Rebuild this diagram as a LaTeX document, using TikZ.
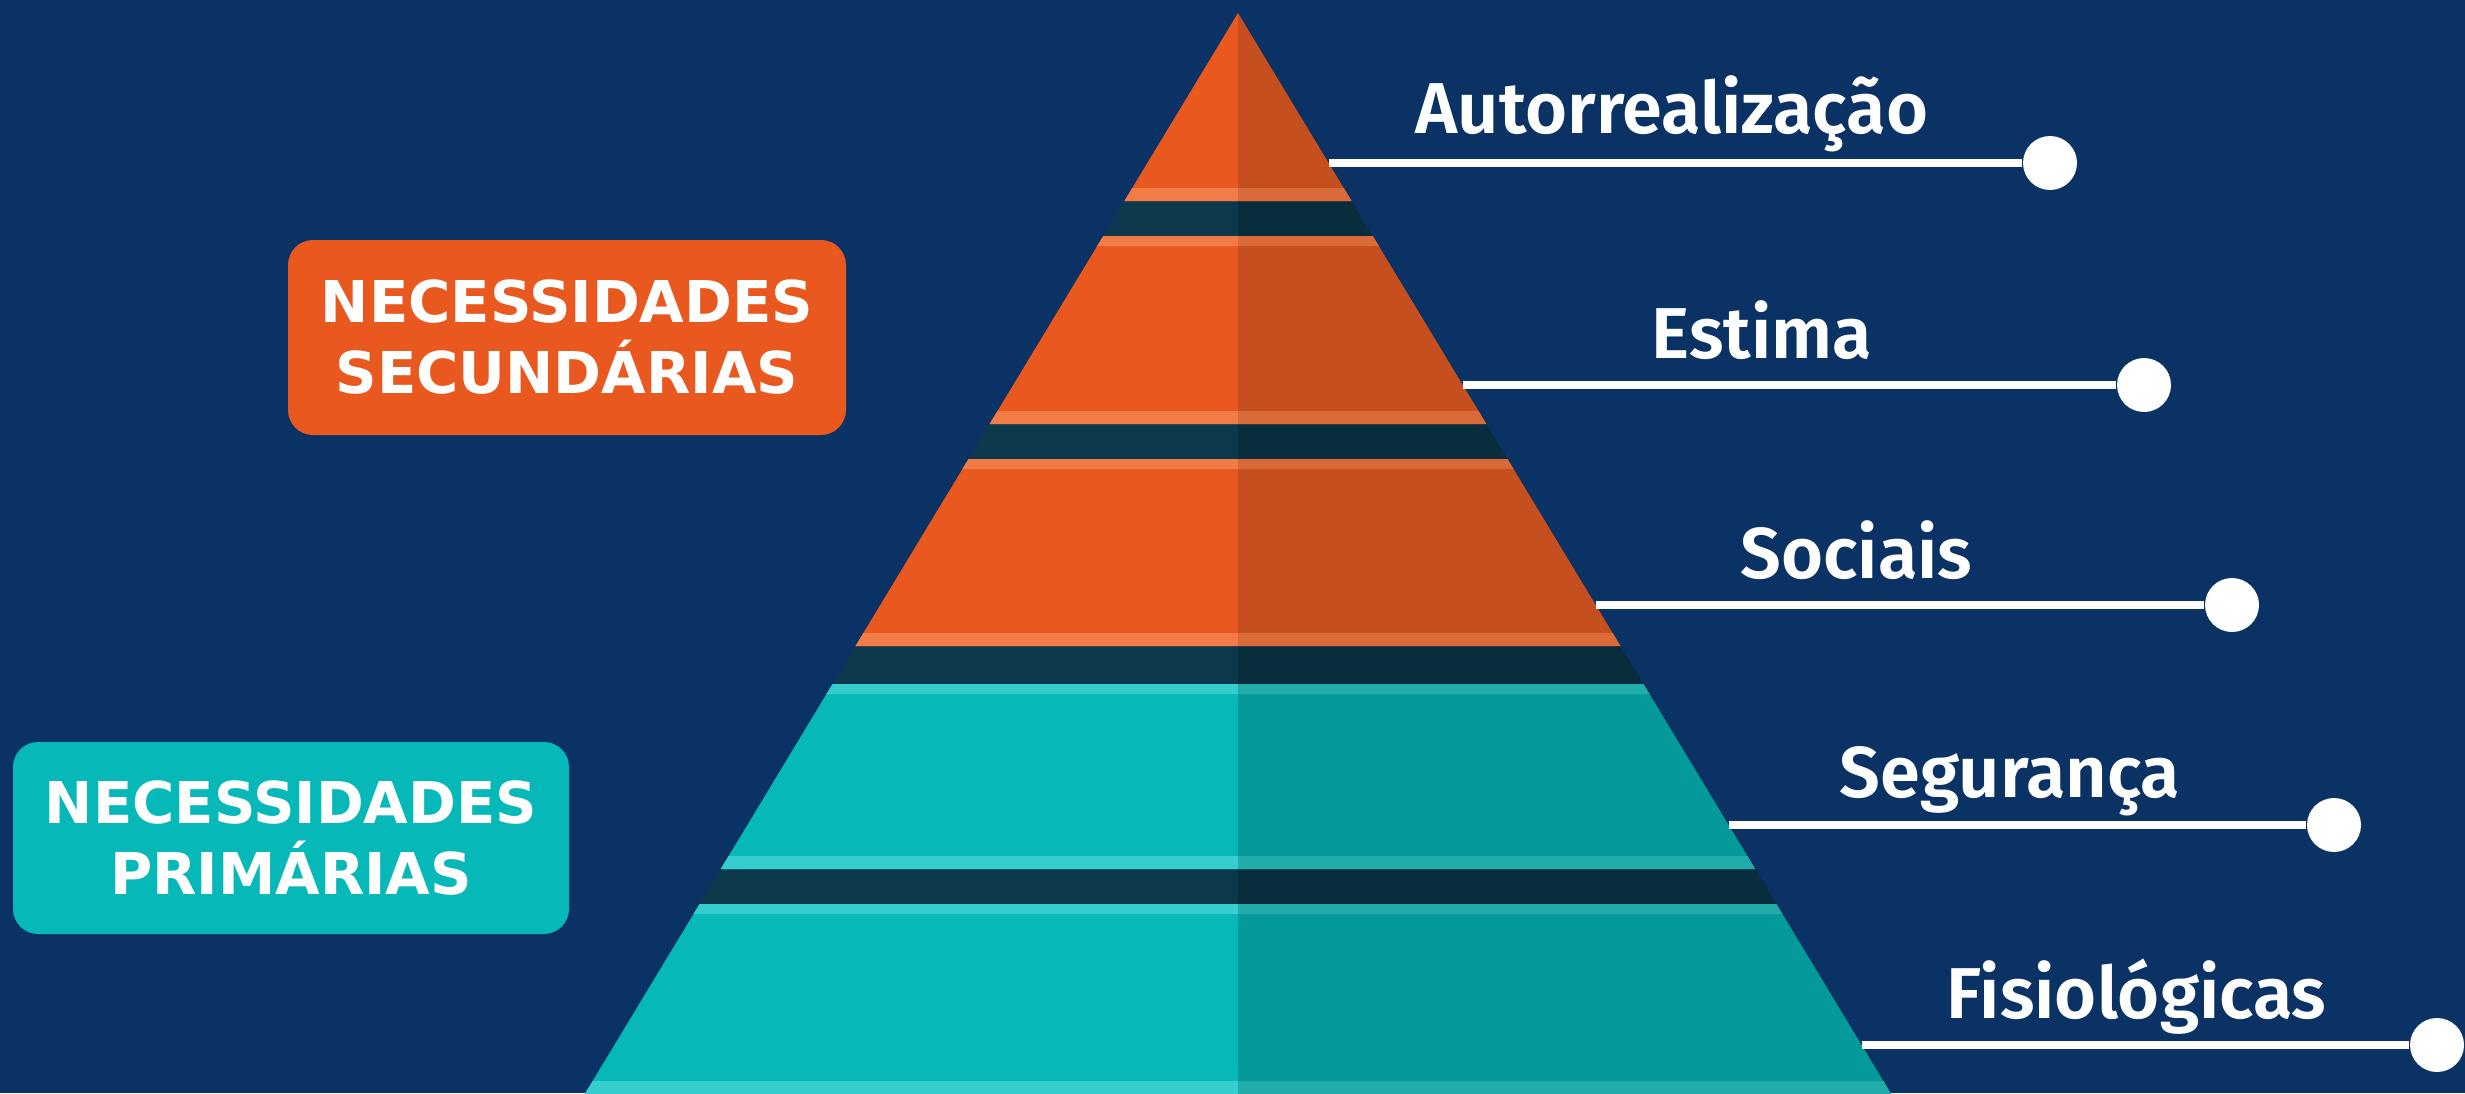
\documentclass[tikz,border=0pt]{standalone}
\usepackage{fontspec}
\setmainfont{Fira Sans}
\newfontfamily\labelfont{Fira Sans SemiBold}
\newfontfamily\boxfont{DejaVu Sans}
\usepackage{xcolor}
\usepackage{tikz}

\definecolor{navy}{HTML}{0A3264}
\definecolor{orangeL}{HTML}{E9591F}
\definecolor{orangeR}{HTML}{C64F20}
\definecolor{orangeHiL}{HTML}{F27C47}
\definecolor{orangeHiR}{HTML}{D96A3A}
\definecolor{tealL}{HTML}{07B8B8}
\definecolor{tealR}{HTML}{059A9A}
\definecolor{tealHiL}{HTML}{35CDCD}
\definecolor{tealHiR}{HTML}{22ABAB}
\definecolor{gapL}{HTML}{0C3A4C}
\definecolor{gapR}{HTML}{082D3D}

\tikzstyle{groupbox} = [rectangle, rounded corners=0.25cm, minimum width=5.58cm, minimum height=1.95cm, align=center, text=white, font=\boxfont\bfseries\fontsize{16.4}{20.2}\selectfont]
\tikzstyle{levellabel} = [anchor=base west, inner sep=0pt, text=white, font=\labelfont\fontsize{20.5}{25}\selectfont]
\tikzstyle{enddot} = [circle, fill=white, minimum size=0.54cm, inner sep=0pt]
\tikzstyle{connector} = [draw=white, line width=2pt]

% slice of the pyramid between two heights (in px from the top), left and right half
\newcommand{\band}[4]{%
  \fill[#3] ({12.38-hw(#1)},{(1093-(#1))/100}) -- (12.38,{(1093-(#1))/100}) -- (12.38,{(1093-(#2))/100}) -- ({12.38-hw(#2)},{(1093-(#2))/100}) -- cycle;
  \fill[#4] ({12.38+hw(#1)},{(1093-(#1))/100}) -- (12.38,{(1093-(#1))/100}) -- (12.38,{(1093-(#2))/100}) -- ({12.38+hw(#2)},{(1093-(#2))/100}) -- cycle;
}
% one level: body plus light stripes at top and bottom
\newcommand{\tier}[3]{%
  \band{#1}{#2}{#3L}{#3R}
  \band{#1}{#1+10}{#3HiL}{#3HiR}
  \band{#2-13}{#2}{#3HiL}{#3HiR}
}

\begin{document}
\begin{tikzpicture}[declare function={hw(\y)=0.00605*(\y-13);}]
    \useasboundingbox (0,0) rectangle (24.65,10.93);
    \clip (0,0) rectangle (24.65,10.93);
    \fill[navy] (0,0) rectangle (24.65,10.93);

    % Pyramid
    \band{13}{1100}{gapL}{gapR}
    \band{13}{201}{orangeL}{orangeR}
    \band{188}{201}{orangeHiL}{orangeHiR}
    \tier{236}{424}{orange}
    \tier{459}{646}{orange}
    \tier{684}{869}{teal}
    \tier{904}{1094}{teal}

    % Nodes
    \node (secundarias) [groupbox, fill=orangeL] at (5.67,7.555) {NECESSIDADES\\SECUNDÁRIAS};
    \node (primarias) [groupbox, fill=tealL, minimum width=5.56cm, minimum height=1.92cm] at (2.91,2.55) {NECESSIDADES\\PRIMÁRIAS};

    \node (autorrealizacao) [levellabel] at (14.15,9.59) {Autorrealização};
    \node (estima) [levellabel] at (16.51,7.35) {Estima};
    \node (sociais) [levellabel] at (17.40,5.15) {Sociais};
    \node (seguranca) [levellabel] at (18.39,2.96) {Segurança};
    \node (fisiologicas) [levellabel] at (19.46,0.75) {Fisiológicas};

    \coordinate (side1) at ({12.38+hw(163)},9.30);
    \coordinate (side2) at ({12.38+hw(385)},7.08);
    \coordinate (side3) at ({12.38+hw(605)},4.88);
    \coordinate (side4) at ({12.38+hw(825)},2.68);
    \coordinate (side5) at ({12.38+hw(1045)},0.48);

    \node (dot1) [enddot] at (20.50,9.30) {};
    \node (dot2) [enddot] at (21.44,7.08) {};
    \node (dot3) [enddot] at (22.32,4.88) {};
    \node (dot4) [enddot] at (23.34,2.68) {};
    \node (dot5) [enddot] at (24.37,0.48) {};

    % Connectors
    \draw [connector] (side1) -- (dot1);
    \draw [connector] (side2) -- (dot2);
    \draw [connector] (side3) -- (dot3);
    \draw [connector] (side4) -- (dot4);
    \draw [connector] (side5) -- (dot5);

\end{tikzpicture}
\end{document}
